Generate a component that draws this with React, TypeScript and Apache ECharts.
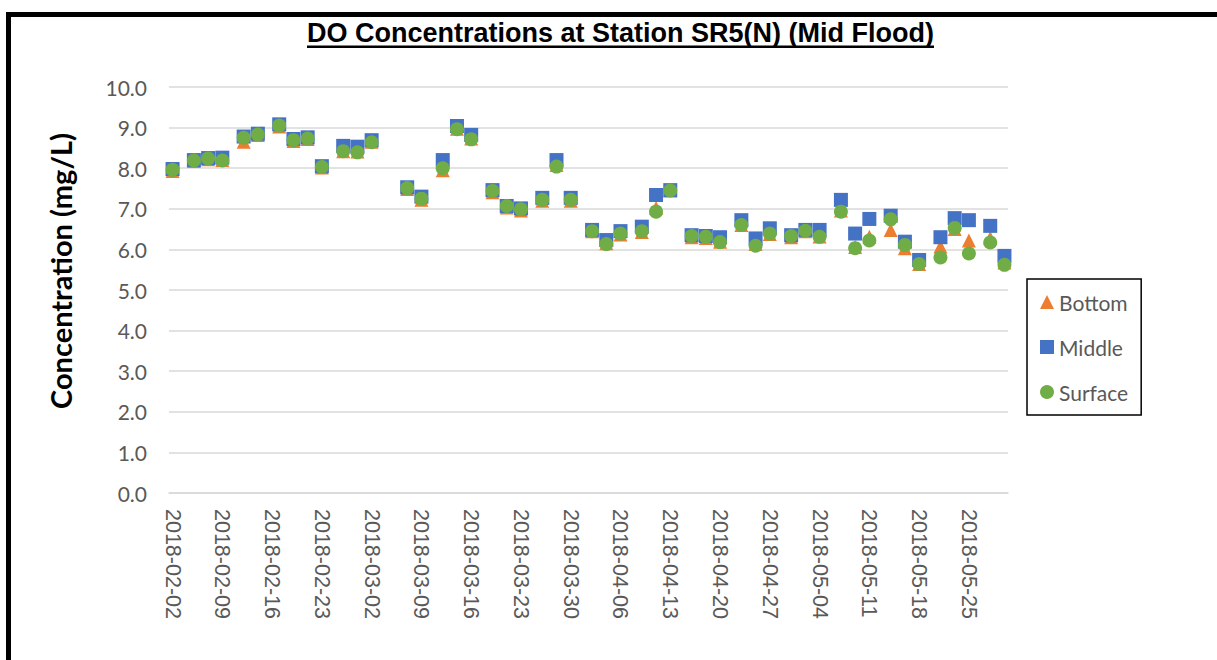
import React, { useEffect, useRef } from 'react';
import * as echarts from 'echarts';

const dates = [
  '2018-02-02', '2018-02-05', '2018-02-07', '2018-02-09', '2018-02-12', '2018-02-14', '2018-02-17', '2018-02-19',
  '2018-02-21', '2018-02-23', '2018-02-26', '2018-02-28', '2018-03-02', '2018-03-07', '2018-03-09', '2018-03-12',
  '2018-03-14', '2018-03-16', '2018-03-19', '2018-03-21', '2018-03-23', '2018-03-26', '2018-03-28', '2018-03-30',
  '2018-04-02', '2018-04-04', '2018-04-06', '2018-04-09', '2018-04-11', '2018-04-13', '2018-04-16', '2018-04-18',
  '2018-04-20', '2018-04-23', '2018-04-25', '2018-04-27', '2018-04-30', '2018-05-02', '2018-05-04', '2018-05-07',
  '2018-05-09', '2018-05-11', '2018-05-14', '2018-05-16', '2018-05-18', '2018-05-21', '2018-05-23', '2018-05-25',
  '2018-05-28', '2018-05-30',
];

const bottomValues = [
  7.93, 8.18, 8.22, 8.2, 8.65, 8.82, 9.03, 8.67, 8.72, 8.02, 8.42, 8.41, 8.65, 7.49, 7.22, 7.95,
  8.97, 8.73, 7.41, 7.03, 6.96, 7.2, 8.08, 7.2, 6.45, 6.15, 6.37, 6.43, 7.02, 7.45, 6.3, 6.28,
  6.19, 6.6, 6.13, 6.38, 6.3, 6.45, 6.32, 6.96, 6.06, 6.31, 6.48, 6.03, 5.64, 6.07, 6.5, 6.22,
  6.28, 5.68,
];

const middleValues = [
  7.98, 8.2, 8.25, 8.26, 8.78, 8.85, 9.08, 8.72, 8.76, 8.05, 8.55, 8.53, 8.69, 7.53, 7.3, 8.2,
  9.04, 8.82, 7.46, 7.07, 7.01, 7.27, 8.2, 7.27, 6.48, 6.23, 6.45, 6.56, 7.34, 7.46, 6.35, 6.33,
  6.3, 6.72, 6.27, 6.52, 6.35, 6.48, 6.48, 7.22, 6.39, 6.75, 6.83, 6.19, 5.74, 6.3, 6.77, 6.72,
  6.58, 5.84,
];

const surfaceValues = [
  7.96, 8.19, 8.24, 8.19, 8.75, 8.83, 9.05, 8.69, 8.73, 8.03, 8.42, 8.39, 8.64, 7.51, 7.25, 8.0,
  8.96, 8.71, 7.44, 7.07, 6.99, 7.22, 8.04, 7.22, 6.45, 6.13, 6.39, 6.45, 6.93, 7.45, 6.33, 6.31,
  6.18, 6.6, 6.09, 6.39, 6.33, 6.46, 6.31, 6.93, 6.03, 6.22, 6.74, 6.11, 5.64, 5.8, 6.53, 5.9,
  6.17, 5.62,
];

const xTickDates = [
  '2018-02-02', '2018-02-09', '2018-02-16', '2018-02-23', '2018-03-02', '2018-03-09', '2018-03-16', '2018-03-23',
  '2018-03-30', '2018-04-06', '2018-04-13', '2018-04-20', '2018-04-27', '2018-05-04', '2018-05-11', '2018-05-18',
  '2018-05-25',
];

const axisStartDate = '2018-02-02';
const axisEndDate = '2018-05-30';

const DAY = 86400000;
const toUTC = (d: string) => {
  const [y, m, dd] = d.split('-').map(Number);
  return Date.UTC(y, m - 1, dd);
};
const START = toUTC(axisStartDate);
const dayIndex = (d: string) => Math.round((toUTC(d) - START) / DAY);
const fmtDay = (v: number) => new Date(START + Math.round(v) * DAY).toISOString().slice(0, 10);

const LABEL_GRAY = '#595959';
const GRID_GRAY = '#d9d9d9';

export default function App() {
  const ref = useRef<HTMLDivElement>(null);

  useEffect(() => {
    document.body.style.margin = '0';
    if (!ref.current) return;
    const chart = echarts.init(ref.current, undefined, { renderer: 'svg' });
    const toPoints = (vals: number[]) => dates.map((d, i) => [dayIndex(d), vals[i]]);

    chart.setOption({
      animation: false,
      backgroundColor: '#ffffff',
      title: {
        text: 'DO Concentrations at Station SR5(N) (Mid Flood)',
        left: 307,
        top: 19,
        padding: 0,
        textStyle: {
          fontFamily: 'Liberation Sans',
          fontWeight: 'bold',
          fontSize: 27,
          color: '#000000',
        },
      },
      grid: { left: 169, right: 209, top: 87, bottom: 167, containLabel: false },
      legend: {
        data: ['Bottom', 'Middle', 'Surface'],
        orient: 'vertical',
        left: 1027,
        top: 279,
        padding: [11, 13, 11, 13],
        itemGap: 21,
        itemWidth: 14,
        itemHeight: 14,
        borderColor: '#000000',
        borderWidth: 1.5,
        textStyle: { fontFamily: 'Lato', fontSize: 21, color: LABEL_GRAY, lineHeight: 24 },
      },
      xAxis: {
        type: 'value',
        min: dayIndex(axisStartDate) - 0.5,
        max: dayIndex(axisEndDate) + 0.5,
        axisLine: { show: true, lineStyle: { color: GRID_GRAY, width: 1.5 } },
        axisTick: { show: false },
        splitLine: { show: false },
        axisLabel: {
          customValues: xTickDates.map(dayIndex),
          formatter: (v: number) => fmtDay(v),
          rotate: -90,
          margin: 16,
          fontFamily: 'Liberation Sans',
          fontSize: 21.5,
          color: LABEL_GRAY,
        },
      },
      yAxis: {
        type: 'value',
        min: 0,
        max: 10,
        interval: 1,
        axisLine: { show: false },
        axisTick: { show: false },
        splitLine: { show: true, lineStyle: { color: GRID_GRAY, width: 1.5 } },
        axisLabel: {
          formatter: (v: number) => v.toFixed(1),
          margin: 22,
          fontFamily: 'Lato',
          fontSize: 21,
          color: LABEL_GRAY,
        },
      },
      series: [
        {
          name: 'Bottom',
          type: 'scatter',
          symbol: 'triangle',
          symbolSize: 14,
          itemStyle: { color: '#ED7D31', opacity: 1 },
          data: toPoints(bottomValues),
        },
        {
          name: 'Middle',
          type: 'scatter',
          symbol: 'rect',
          symbolSize: 14,
          itemStyle: { color: '#4472C4', opacity: 1 },
          data: toPoints(middleValues),
        },
        {
          name: 'Surface',
          type: 'scatter',
          symbol: 'circle',
          symbolSize: 14,
          itemStyle: { color: '#70AD47', opacity: 1 },
          data: toPoints(surfaceValues),
        },
      ],
      graphic: [
        { type: 'rect', shape: { x: 6, y: 12, width: 1211, height: 5 }, style: { fill: '#000000' } },
        { type: 'rect', shape: { x: 6, y: 12, width: 5, height: 648 }, style: { fill: '#000000' } },
        { type: 'rect', shape: { x: 307, y: 45.5, width: 627, height: 2.5 }, style: { fill: '#000000' } },
        {
          type: 'text',
          x: 60,
          y: 271,
          rotation: Math.PI / 2,
          style: {
            text: 'Concentration (mg/L)',
            textAlign: 'center',
            textVerticalAlign: 'middle',
            fontFamily: 'Lato',
            fontWeight: 'bold',
            fontSize: 29,
            fill: '#000000',
          },
        },
      ],
    });

    return () => chart.dispose();
  }, []);

  return (
    <div
      ref={ref}
      style={{ position: 'absolute', left: 0, top: 0, width: 1217, height: 660 }}
    />
  );
}
